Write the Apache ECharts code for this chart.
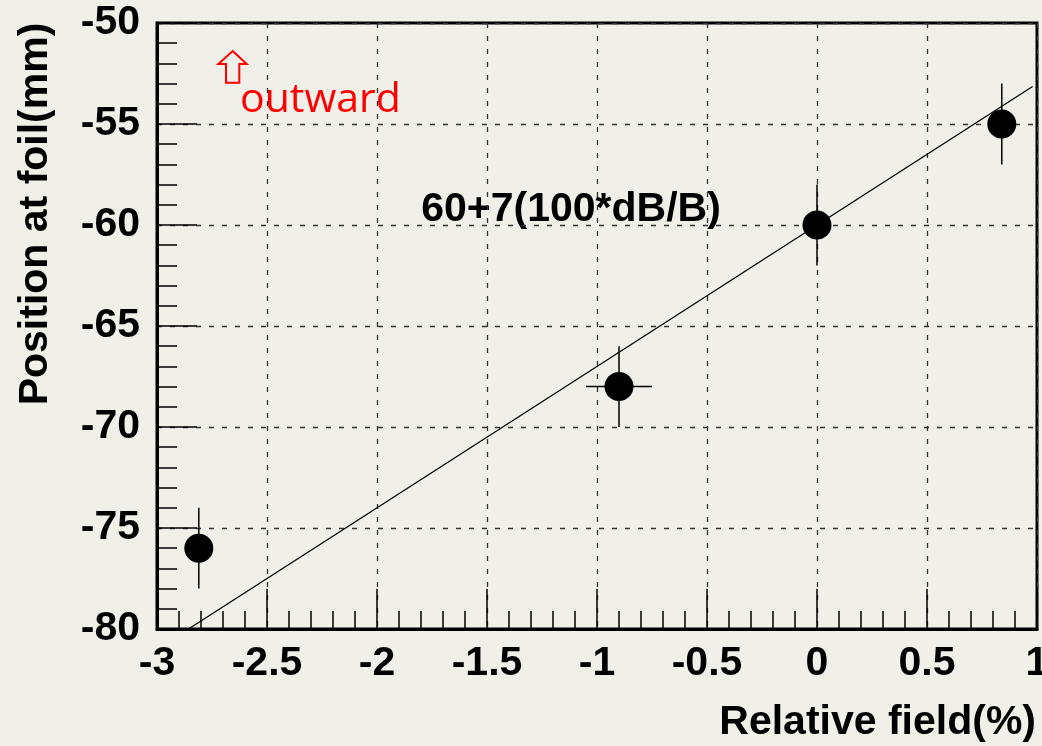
<!DOCTYPE html>
<html>
<head>
<meta charset="utf-8">
<script src="https://cdn.jsdelivr.net/npm/echarts@6/dist/echarts.min.js"></script>
<style>
  html, body { margin: 0; padding: 0; background: #f0efe8; }
  #chart { width: 1042px; height: 746px; }
</style>
</head>
<body>
<div id="chart"></div>
<script>
// measured points (relative field %, position at foil mm)
var fieldVals = [-2.81, -0.9, 0, 0.84];
var posVals = [-76, -68, -60, -55];
var fieldErr = [0, 0.15, 0, 0];
var posErr = [2, 2, 2, 2];
// fitted line ends
var fitX = [-2.857, 0.98];
var fitY = [-80, -53.14];
var xTicks = { min: -3, max: 1, step: 0.5 };
var yTicks = { min: -80, max: -50, step: 5 };

var chart = echarts.init(document.getElementById('chart'));
var font = '"Liberation Sans", Arial, Helvetica, sans-serif';

var points = fieldVals.map(function (x, i) { return [x, posVals[i], fieldErr[i], posErr[i]]; });
var fitLine = fitX.map(function (x, i) { return [x, fitY[i]]; });

function axisCommon(minorLen, labelGap) {
    return {
        axisLine: { show: true, onZero: false, lineStyle: { color: '#000', width: 3 } },
        axisTick: { show: true, inside: true, length: 40, lineStyle: { color: '#000', width: 1.5 } },
        minorTick: { show: true, splitNumber: 5, length: minorLen, lineStyle: { color: '#000', width: 1.5 } },
        axisLabel: { color: '#000', fontSize: 41, fontWeight: 'bold', fontFamily: font, margin: labelGap, showMinLabel: true, showMaxLabel: true },
        splitLine: { show: true, lineStyle: { color: '#333', width: 1.3, type: [5, 8] } }
    };
}

var option = {
    backgroundColor: '#f0efe8',
    animation: false,
    grid: {
        left: 157, top: 23, right: 5, bottom: 117,
        show: true, borderColor: '#000', borderWidth: 3,
        outerBoundsMode: 'none'
    },
    xAxis: Object.assign({
        type: 'value', min: xTicks.min, max: xTicks.max, interval: xTicks.step
    }, axisCommon(18, 14)),
    yAxis: Object.assign({
        type: 'value', min: yTicks.min, max: yTicks.max, interval: yTicks.step
    }, axisCommon(20, 17)),
    series: [
        {
            type: 'line',
            data: fitLine,
            symbol: 'none',
            lineStyle: { color: '#000', width: 1.3 },
            z: 3
        },
        {
            type: 'custom',
            data: points,
            renderItem: function (params, api) {
                var x = api.value(0), y = api.value(1), ex = api.value(2), ey = api.value(3);
                var kids = [];
                var a = api.coord([x, y + ey]), b = api.coord([x, y - ey]);
                kids.push({ type: 'line', shape: { x1: a[0], y1: a[1], x2: b[0], y2: b[1] }, style: { stroke: '#000', lineWidth: 1.5 } });
                if (ex > 0) {
                    var c = api.coord([x - ex, y]), d = api.coord([x + ex, y]);
                    kids.push({ type: 'line', shape: { x1: c[0], y1: c[1], x2: d[0], y2: d[1] }, style: { stroke: '#000', lineWidth: 1.5 } });
                }
                return { type: 'group', children: kids };
            },
            z: 4
        },
        {
            type: 'scatter',
            data: points.map(function (p) { return [p[0], p[1]]; }),
            symbol: 'circle',
            symbolSize: 29,
            itemStyle: { color: '#000', opacity: 1 },
            z: 5
        }
    ],
    graphic: [
        {
            type: 'text', x: 36, y: 214, rotation: Math.PI / 2,
            style: { text: 'Position at foil(mm)', fill: '#000', font: 'bold 41px ' + font, textAlign: 'center', textVerticalAlign: 'middle' }
        },
        {
            type: 'text', x: 1036, y: 723,
            style: { text: 'Relative field(%)', fill: '#000', font: 'bold 41px ' + font, textAlign: 'right', textVerticalAlign: 'middle' }
        },
        {
            type: 'text', x: 571, y: 210,
            style: { text: '60+7(100*dB/B)', fill: '#000', font: 'bold 41px ' + font, textAlign: 'center', textVerticalAlign: 'middle' }
        },
        {
            type: 'text', x: 240, y: 100,
            style: { text: 'outward', fill: '#ff0000', font: '41px "Open Sans", sans-serif', textAlign: 'left', textVerticalAlign: 'middle' }
        },
        {
            type: 'polygon',
            shape: { points: [[232.7, 51], [246.7, 64], [239.3, 64], [239.3, 82.7], [226, 82.7], [226, 64], [218.3, 64]] },
            style: { fill: 'none', stroke: '#ff0000', lineWidth: 2 }
        }
    ]
};

chart.setOption(option);
</script>
</body>
</html>
